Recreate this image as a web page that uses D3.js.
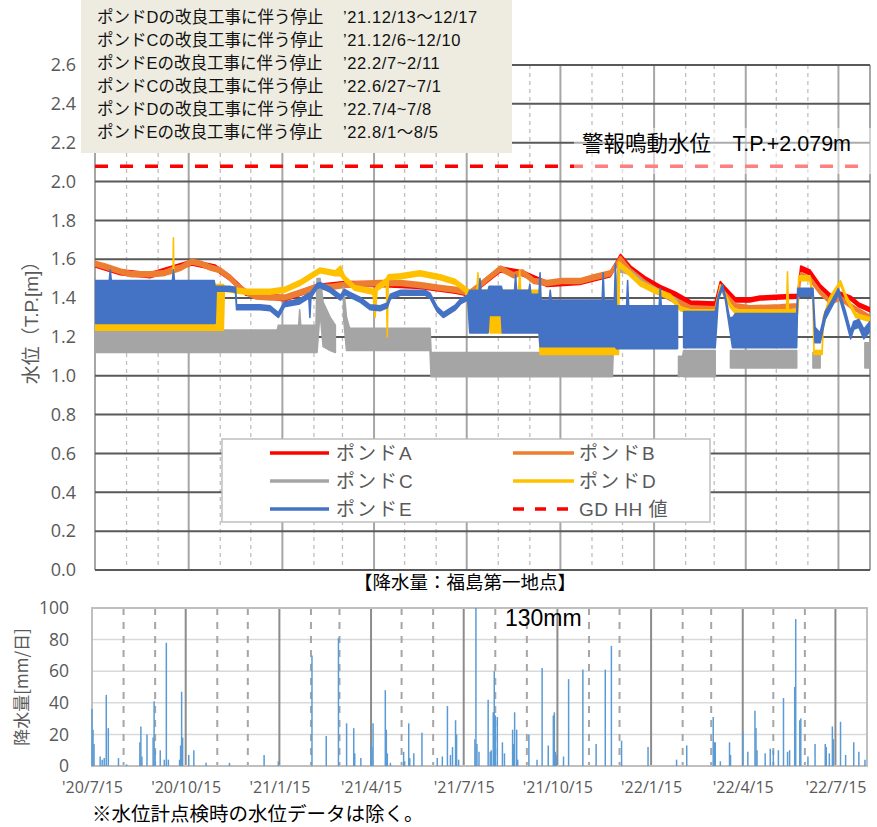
<!DOCTYPE html>
<html><head><meta charset="utf-8">
<script src="https://cdn.jsdelivr.net/npm/d3@7"></script>
<style>
body{margin:0;background:#fff;}
svg{display:block;}
</style></head><body>
<svg id="c" width="877" height="827"></svg>
<script>
// ---------------- DATA ----------------
const annotationNames = ["ポンドDの改良工事に伴う停止","ポンドCの改良工事に伴う停止","ポンドEの改良工事に伴う停止","ポンドCの改良工事に伴う停止","ポンドDの改良工事に伴う停止","ポンドEの改良工事に伴う停止"];
const annotationDates = ["’21.12/13～12/17","’21.12/6~12/10","’22.2/7~2/11","’22.6/27~7/1"," ’22.7/4~7/8","’22.8/1～8/5"];
const levelTicks = [0,0.2,0.4,0.6,0.8,1.0,1.2,1.4,1.6,1.8,2.0,2.2,2.4,2.6];
const rainTicks = [0,20,40,60,80,100];
const xTickDates = ["2020-07-15","2020-10-15","2021-01-15","2021-04-15","2021-07-15","2021-10-15","2022-01-15","2022-04-15","2022-07-15"];
const xTickLabels = ["'20/7/15","'20/10/15","'21/1/15","'21/4/15","'21/7/15","'21/10/15","'22/1/15","'22/4/15","'22/7/15"];
const hhValue = 2.079;
const hhDates = ["2020-07-15","2022-08-15"];

// [date, low, high] envelope of each pond water level (T.P. m)
const pondA = [
["2020-07-15",1.56,1.585],["2020-08-09",1.52,1.545],["2020-09-07",1.505,1.53],["2020-10-18",1.57,1.595],
["2020-11-10",1.545,1.57],["2020-11-25",1.49,1.515],["2020-12-10",1.415,1.44],["2021-01-17",1.385,1.41],
["2021-02-18",1.445,1.47],["2021-03-17",1.46,1.485],["2021-04-21",1.46,1.485],["2021-05-30",1.45,1.475],
["2021-07-04",1.425,1.45],["2021-07-18",1.41,1.435],["2021-08-17",1.535,1.56],["2021-09-08",1.515,1.54],
["2021-10-02",1.46,1.485],["2021-11-03",1.47,1.495],["2021-12-03",1.51,1.535],["2021-12-13",1.6,1.625],
["2021-12-23",1.54,1.565],["2022-01-06",1.485,1.51],["2022-01-21",1.44,1.465],["2022-02-05",1.405,1.43],
["2022-02-20",1.36,1.385],["2022-03-16",1.355,1.38],["2022-03-21",1.46,1.485],["2022-03-26",1.43,1.455],
["2022-04-05",1.38,1.4],["2022-04-19",1.38,1.4],["2022-04-29",1.39,1.41],["2022-05-19",1.395,1.415],
["2022-06-05",1.4,1.42],["2022-06-08",1.54,1.565],["2022-06-17",1.52,1.545],["2022-06-27",1.45,1.47],
["2022-07-07",1.4,1.42],["2022-07-17",1.41,1.43],["2022-07-27",1.39,1.41],["2022-08-04",1.355,1.375],
["2022-08-15",1.33,1.35]
];
const pondB = [
["2020-07-15",1.565,1.59],["2020-07-25",1.55,1.575],["2020-08-09",1.525,1.55],["2020-08-20",1.51,1.535],
["2020-09-07",1.51,1.535],["2020-09-20",1.515,1.54],["2020-09-30",1.53,1.56],["2020-10-08",1.545,1.57],
["2020-10-18",1.575,1.6],["2020-10-27",1.565,1.59],["2020-11-05",1.545,1.57],["2020-11-15",1.53,1.555],
["2020-11-25",1.49,1.515],["2020-12-01",1.455,1.48],["2020-12-10",1.42,1.445],["2020-12-20",1.395,1.42],
["2021-01-03",1.39,1.415],["2021-01-17",1.39,1.415],["2021-02-01",1.415,1.44],["2021-02-18",1.445,1.47],
["2021-03-03",1.445,1.47],["2021-03-17",1.455,1.48],["2021-04-01",1.46,1.485],["2021-04-21",1.465,1.49],
["2021-05-11",1.465,1.49],["2021-05-30",1.455,1.48],["2021-06-19",1.44,1.465],["2021-07-04",1.43,1.455],
["2021-07-18",1.415,1.44],["2021-07-28",1.455,1.48],["2021-08-17",1.54,1.565],["2021-08-30",1.505,1.53],
["2021-09-08",1.52,1.545],["2021-09-19",1.475,1.5],["2021-10-02",1.465,1.49],["2021-10-16",1.475,1.5],
["2021-11-03",1.475,1.5],["2021-11-17",1.495,1.52],["2021-12-03",1.515,1.54],["2021-12-13",1.59,1.615],
["2021-12-23",1.525,1.55],["2022-01-06",1.465,1.49],["2022-01-21",1.415,1.44],["2022-02-05",1.375,1.4],
["2022-02-20",1.34,1.36],["2022-03-16",1.335,1.355],["2022-03-21",1.44,1.46],["2022-04-05",1.35,1.37],
["2022-04-19",1.34,1.36],["2022-05-19",1.345,1.365],["2022-06-05",1.35,1.37],["2022-06-08",1.51,1.53],
["2022-06-17",1.49,1.51],["2022-06-27",1.42,1.44],["2022-07-07",1.37,1.39],["2022-07-17",1.39,1.41],
["2022-07-27",1.35,1.37],["2022-08-15",1.29,1.31]
];
const pondC = [
["2020-07-15",1.12,1.235],["2021-01-10",1.12,1.235],["2021-01-11",1.12,1.26],["2021-01-31",1.12,1.26],
["2021-02-01",1.12,1.34],["2021-02-02",1.12,1.26],["2021-02-17",1.12,1.26],["2021-02-18",1.12,1.5],
["2021-02-21",1.33,1.5],["2021-02-24",1.15,1.38],["2021-03-03",1.13,1.3],["2021-03-08",1.12,1.26],
["2021-03-09",null,null],["2021-03-16",1.3,1.46],["2021-03-19",1.13,1.3],["2021-03-22",1.13,1.245],
["2021-06-09",1.13,1.245],["2021-06-10",0.995,1.12],["2021-12-05",0.995,1.12],["2021-12-06",1.14,1.3],
["2021-12-11",1.54,1.58],["2021-12-23",1.52,1.54],["2022-01-06",1.46,1.48],["2022-01-21",1.42,1.44],
["2022-02-05",1.38,1.4],["2022-02-07",1.37,1.39],["2022-02-07",null,null],["2022-02-08",0.995,1.1],
["2022-02-12",1.0,1.1],["2022-02-13",0.995,1.13],["2022-03-16",0.995,1.13],["2022-03-17",null,null],
["2022-03-31",1.04,1.13],["2022-06-04",1.04,1.13],["2022-06-05",null,null],["2022-06-20",1.04,1.12],
["2022-06-27",1.04,1.12],["2022-06-28",null,null],["2022-08-10",1.04,1.17],["2022-08-15",1.04,1.17]
];
const pondD = [
["2020-07-15",1.235,1.3],["2020-09-29",1.235,1.3],["2020-09-30",1.235,1.71],["2020-10-01",1.235,1.3],
["2020-11-09",1.235,1.3],["2020-11-10",1.235,1.47],["2020-11-18",1.235,1.47],["2020-11-19",1.435,1.46],
["2020-11-25",1.43,1.455],["2020-12-10",1.42,1.445],["2021-01-03",1.42,1.445],["2021-01-17",1.43,1.455],
["2021-02-01",1.465,1.49],["2021-02-21",1.53,1.555],["2021-03-08",1.515,1.54],["2021-03-13",1.515,1.565],
["2021-03-17",1.49,1.515],["2021-03-27",1.44,1.465],["2021-04-14",1.42,1.445],["2021-04-16",1.3,1.445],
["2021-04-18",1.44,1.465],["2021-04-27",1.47,1.5],["2021-04-28",1.2,1.51],["2021-04-29",1.495,1.52],
["2021-05-11",1.5,1.525],["2021-05-30",1.515,1.54],["2021-06-19",1.495,1.52],["2021-07-04",1.47,1.495],
["2021-07-14",1.43,1.455],["2021-07-18",1.3,1.44],["2021-07-25",1.3,1.44],["2021-07-26",1.3,1.53],
["2021-07-27",1.3,1.44],["2021-08-06",1.3,1.44],["2021-08-07",1.22,1.33],["2021-08-19",1.22,1.33],
["2021-08-20",1.3,1.44],["2021-09-04",1.3,1.44],["2021-09-05",1.3,1.545],["2021-09-06",1.3,1.44],
["2021-09-24",1.3,1.44],["2021-09-25",1.11,1.3],["2021-12-10",1.11,1.3],["2021-12-11",1.11,1.585],
["2021-12-12",1.56,1.585],["2021-12-23",1.51,1.535],["2022-01-01",1.465,1.49],["2022-01-16",1.425,1.45],
["2022-01-31",1.395,1.42],["2022-02-10",1.335,1.355],["2022-02-20",1.32,1.34],["2022-03-16",1.32,1.34],
["2022-03-21",1.45,1.47],["2022-03-31",1.35,1.37],["2022-04-05",1.32,1.34],["2022-05-25",1.32,1.34],
["2022-05-26",1.32,1.535],["2022-05-27",1.32,1.34],["2022-06-05",1.32,1.34],["2022-06-06",1.49,1.515],
["2022-06-17",1.49,1.515],["2022-06-20",1.39,1.42],["2022-06-21",1.11,1.13],["2022-06-29",1.11,1.13],
["2022-06-30",1.25,1.3],["2022-07-07",1.39,1.41],["2022-07-17",1.47,1.49],["2022-07-22",1.4,1.42],
["2022-08-01",1.3,1.32],["2022-08-15",1.28,1.3]
];
const pondE = [
["2020-07-15",1.27,1.49],["2020-07-29",1.27,1.49],["2020-07-30",1.27,1.545],["2020-07-31",1.27,1.49],
["2020-09-29",1.27,1.49],["2020-09-30",1.27,1.545],["2020-10-01",1.27,1.49],["2020-11-09",1.27,1.49],
["2020-11-10",1.27,1.46],["2020-11-11",1.435,1.46],["2020-11-25",1.435,1.46],["2020-11-30",1.43,1.455],
["2020-12-01",1.34,1.365],["2020-12-24",1.34,1.365],["2021-01-03",1.335,1.36],["2021-01-11",1.3,1.325],
["2021-01-17",1.355,1.38],["2021-02-01",1.37,1.395],["2021-02-10",1.4,1.425],["2021-02-11",1.3,1.42],
["2021-02-12",1.4,1.43],["2021-02-18",1.45,1.475],["2021-02-21",1.455,1.48],["2021-03-03",1.43,1.455],
["2021-03-13",1.39,1.415],["2021-03-17",1.42,1.445],["2021-03-22",1.405,1.43],["2021-04-01",1.38,1.405],
["2021-04-11",1.34,1.365],["2021-04-21",1.335,1.36],["2021-04-28",1.35,1.375],["2021-05-01",1.395,1.42],
["2021-05-11",1.415,1.44],["2021-06-04",1.415,1.44],["2021-06-09",1.4,1.425],["2021-06-16",1.33,1.355],
["2021-06-22",1.3,1.325],["2021-07-04",1.34,1.365],["2021-07-09",1.37,1.395],["2021-07-16",1.39,1.415],
["2021-07-18",1.22,1.44],["2021-07-27",1.22,1.44],["2021-07-28",1.22,1.5],["2021-07-29",1.22,1.44],
["2021-08-05",1.22,1.44],["2021-08-06",1.31,1.46],["2021-08-18",1.31,1.46],["2021-08-19",1.22,1.44],
["2021-08-31",1.22,1.44],["2021-09-01",1.22,1.52],["2021-09-02",1.22,1.44],["2021-09-14",1.22,1.44],
["2021-09-15",1.22,1.47],["2021-09-16",1.22,1.42],["2021-09-24",1.22,1.42],["2021-09-25",1.15,1.53],
["2021-09-26",1.15,1.39],["2021-10-04",1.15,1.39],["2021-10-05",1.15,1.44],["2021-10-06",1.15,1.39],
["2021-11-25",1.15,1.39],["2021-11-26",1.15,1.53],["2021-11-27",1.15,1.39],["2021-12-07",1.15,1.39],
["2021-12-08",1.15,1.575],["2021-12-09",1.14,1.36],["2021-12-19",1.14,1.36],["2021-12-20",1.14,1.49],
["2021-12-21",1.14,1.36],["2022-01-20",1.14,1.36],["2022-01-21",1.14,1.45],["2022-01-22",1.14,1.36],
["2022-02-07",1.14,1.36],["2022-02-08",null,null],["2022-02-13",1.145,1.33],["2022-03-16",1.145,1.33],
["2022-03-19",1.39,1.41],["2022-03-23",1.45,1.47],["2022-03-26",1.39,1.41],["2022-03-30",1.25,1.3],
["2022-04-02",1.145,1.3],["2022-04-05",1.145,1.32],["2022-06-04",1.145,1.32],["2022-06-05",1.41,1.45],
["2022-06-20",1.41,1.45],["2022-06-22",1.17,1.25],["2022-06-27",1.17,1.22],["2022-07-02",1.29,1.33],
["2022-07-09",1.36,1.39],["2022-07-15",1.42,1.45],["2022-07-22",1.29,1.33],["2022-07-27",1.19,1.23],
["2022-07-30",1.24,1.28],["2022-08-04",1.25,1.29],["2022-08-09",1.19,1.24],["2022-08-15",1.23,1.28]
];

// daily precipitation (mm/day), Fukushima Daiichi
const rainDates = ["2020-07-15","2020-07-16","2020-07-17","2020-07-23","2020-07-25","2020-07-27","2020-07-29","2020-07-31","2020-08-10","2020-08-18",
"2020-08-31","2020-09-01","2020-09-02","2020-09-07","2020-09-13","2020-09-14","2020-09-15","2020-09-20","2020-09-24","2020-09-26",
"2020-09-28","2020-10-09","2020-10-10","2020-10-11","2020-10-12","2020-10-18","2020-10-23","2020-11-04","2020-11-27","2020-12-31",
"2021-01-14","2021-02-16","2021-03-02","2021-03-14","2021-03-22","2021-03-29","2021-03-30","2021-04-05","2021-04-15","2021-04-16",
"2021-04-17","2021-04-29","2021-04-30","2021-05-01","2021-05-04","2021-05-17","2021-05-18","2021-05-22","2021-05-23","2021-05-27",
"2021-06-04","2021-06-19","2021-06-24","2021-06-29","2021-07-02","2021-07-04","2021-07-07","2021-07-08","2021-07-10","2021-07-26",
"2021-07-27","2021-07-28","2021-07-30","2021-08-08","2021-08-10","2021-08-11","2021-08-13","2021-08-14","2021-08-15","2021-08-17",
"2021-08-22","2021-08-24","2021-09-01","2021-09-02","2021-09-03","2021-09-05","2021-09-06","2021-09-17","2021-09-25","2021-09-30",
"2021-10-06","2021-10-11","2021-10-12","2021-10-13","2021-10-14","2021-10-21","2021-10-26","2021-11-09","2021-11-22","2021-12-01",
"2021-12-07","2021-12-17","2022-01-12","2022-02-09","2022-02-19","2022-03-17","2022-03-18","2022-03-19","2022-03-24","2022-04-02",
"2022-04-03","2022-04-15","2022-04-20","2022-04-27","2022-04-28","2022-04-29","2022-05-07","2022-05-12","2022-05-15","2022-05-20",
"2022-05-25","2022-05-29","2022-05-31","2022-06-05","2022-06-06","2022-06-10","2022-06-11","2022-06-18","2022-06-25","2022-07-05",
"2022-07-06","2022-07-09","2022-07-12","2022-07-13","2022-07-20","2022-07-25","2022-08-02","2022-08-07","2022-08-13"];
const rainValues = [36,23,14,6,4,5,45,24,5,1,
15,25,6,20,18,41,10,10,4,78,
4,4,13,47,18,7,10,2,2,7,
3,70,19,81,27,24,8,5,14,12,
27,48,23,8,2,9,3,27,5,8,
21,5,6,38,7,12,29,20,4,17,
130,14,9,42,9,10,34,60,32,31,
15,8,23,14,34,23,4,20,4,62,
13,32,34,9,7,6,55,61,14,61,
76,16,12,4,13,31,15,15,3,15,
7,22,9,35,24,10,8,11,10,10,
43,9,10,50,93,29,30,6,14,14,
12,8,25,17,28,7,15,9,4];

// ---------------- DRAW ----------------
const parse = d3.timeParse("%Y-%m-%d");
const svg = d3.select("#c");
const JP = "'Liberation Sans','Noto Sans CJK JP',sans-serif";
const JPN = "'Noto Sans CJK JP',sans-serif";
const NUM = "'Open Sans',sans-serif";
const startD = parse("2020-07-15"), endD = parse("2022-08-15");

const xTop = d3.scaleTime().domain([startD, endD]).range([95, 870]);
const yTop = d3.scaleLinear().domain([0, 2.6]).range([570, 65]);
const xBot = d3.scaleTime().domain([startD, endD]).range([92, 867]);
const yBot = d3.scaleLinear().domain([0, 100]).range([766, 608]).clamp(true);

const gridDates = d3.range(0, 26).map(i => new Date(2020, 6 + i, 15));
const isQuarter = d => d.getMonth() % 3 === 0;

// ---- top chart grid ----
const gTop = svg.append("g");
gTop.selectAll("line.vd").data(gridDates.filter(d => !isQuarter(d)))
  .join("line").attr("x1", d => xTop(d)).attr("x2", d => xTop(d)).attr("y1", yTop(2.6)).attr("y2", yTop(0))
  .attr("stroke", "#bfbfbf").attr("stroke-width", 1.3).attr("stroke-dasharray", "4,4");
gTop.selectAll("line.vs").data(gridDates.filter(d => isQuarter(d)))
  .join("line").attr("x1", d => xTop(d)).attr("x2", d => xTop(d)).attr("y1", yTop(2.6)).attr("y2", yTop(0))
  .attr("stroke", "#a6a6a6").attr("stroke-width", 2);
gTop.append("line").attr("x1", 95).attr("x2", 95).attr("y1", yTop(2.6)).attr("y2", yTop(0)).attr("stroke", "#a6a6a6").attr("stroke-width", 2);
gTop.append("line").attr("x1", 870).attr("x2", 870).attr("y1", yTop(2.6)).attr("y2", yTop(0)).attr("stroke", "#a6a6a6").attr("stroke-width", 2);
gTop.selectAll("line.h").data(levelTicks)
  .join("line").attr("x1", 95).attr("x2", 870).attr("y1", d => yTop(d)).attr("y2", d => yTop(d))
  .attr("stroke", "#595959").attr("stroke-width", 2);

// y axis labels
const yAx = svg.append("g").attr("transform", "translate(95,0)")
  .call(d3.axisLeft(yTop).tickValues(levelTicks).tickFormat(d3.format(".1f")).tickSize(0).tickPadding(19));
yAx.select(".domain").remove();
yAx.selectAll("text").attr("font-family", NUM).attr("font-size", 18).attr("fill", "#595959");

svg.append("text").attr("transform", "translate(31,318) rotate(-90)")
  .attr("text-anchor", "middle").attr("dominant-baseline", "central")
  .attr("font-family", JP).attr("font-size", 19).attr("fill", "#595959").text("水位（T.P.[m]）");

// series
const clip = svg.append("defs").append("clipPath").attr("id", "topclip");
clip.append("rect").attr("x", 95).attr("y", 60).attr("width", 775).attr("height", 512);
const toRows = arr => arr.map(r => ({d: parse(r[0]), lo: r[1], hi: r[2]}));
const area = d3.area().defined(d => d.lo !== null)
  .x(d => xTop(d.d)).y0(d => yTop(d.lo)).y1(d => yTop(d.hi));
const series = [
  {name: "ポンドA", data: pondA, color: "#ff0000"},
  {name: "ポンドB", data: pondB, color: "#ed7d31"},
  {name: "ポンドC", data: pondC, color: "#a5a5a5"},
  {name: "ポンドD", data: pondD, color: "#ffc000"},
  {name: "ポンドE", data: pondE, color: "#4472c4"}
];
const gSer = svg.append("g").attr("clip-path", "url(#topclip)");
series.forEach(s => {
  gSer.append("path").datum(toRows(s.data)).attr("d", area)
    .attr("fill", s.color).attr("stroke", s.color).attr("stroke-width", 1.6)
    .attr("stroke-linejoin", "round");
});

// GD HH line
const hhLine = d3.line().x(d => xTop(parse(d))).y(() => yTop(hhValue));
svg.append("path").datum(hhDates).attr("d", hhLine).attr("fill", "none")
  .attr("stroke", "#ff0000").attr("stroke-width", 3.5).attr("stroke-dasharray", "13,12");

// alarm label with translucent background
svg.append("rect").attr("x", 574).attr("y", 128).attr("width", 303).attr("height", 46)
  .attr("fill", "#fff").attr("opacity", 0.5);
svg.append("text").attr("x", 582).attr("y", 151).attr("font-family", JP).attr("font-size", 21.5)
  .attr("fill", "#000").text("警報鳴動水位　T.P.+2.079m");

// legend
const leg = svg.append("g");
leg.append("rect").attr("x", 222).attr("y", 439).attr("width", 488).attr("height", 83)
  .attr("fill", "#fff").attr("stroke", "#bfbfbf").attr("stroke-width", 1.5);
const legItems = [
  {name: "ポンドA", color: "#ff0000", col: 0, row: 0},
  {name: "ポンドB", color: "#ed7d31", col: 1, row: 0},
  {name: "ポンドC", color: "#a5a5a5", col: 0, row: 1},
  {name: "ポンドD", color: "#ffc000", col: 1, row: 1},
  {name: "ポンドE", color: "#4472c4", col: 0, row: 2},
  {name: "GD HH 値", color: "#ff0000", col: 1, row: 2, dash: true}
];
const colX = [[270, 329, 336], [513, 574, 579]];
legItems.forEach(it => {
  const cy = 453 + it.row * 28;
  const c = colX[it.col];
  leg.append("line").attr("x1", c[0]).attr("x2", c[1]).attr("y1", cy).attr("y2", cy)
    .attr("stroke", it.color).attr("stroke-width", 3.5)
    .attr("stroke-dasharray", it.dash ? "11,11" : null);
  leg.append("text").attr("x", c[2]).attr("y", cy + 7).attr("font-family", JP).attr("font-size", 19)
    .attr("letter-spacing", it.dash ? "0.5px" : "2px").attr("fill", "#595959").text(it.name);
});

// annotation box
svg.append("rect").attr("x", 81).attr("y", 0).attr("width", 431).attr("height", 153).attr("fill", "#eeece1");
const ann = svg.append("g").attr("font-family", JP).attr("font-size", 16.5).attr("fill", "#111");
annotationNames.forEach((n, i) => {
  const y = 23 + i * 23;
  ann.append("text").attr("x", 97).attr("y", y).text(n);
  ann.append("text").attr("x", 343).attr("y", y).attr("letter-spacing", "0.6px").text(annotationDates[i]);
});

// ---- rain subtitle ----
svg.append("text").attr("x", 465).attr("y", 589).attr("text-anchor", "middle")
  .attr("font-family", JPN).attr("font-size", 18.5).attr("fill", "#000").text("【降水量：福島第一地点】");

// ---- bottom chart ----
const gBot = svg.append("g");
gBot.selectAll("line.h").data(rainTicks.filter(d => d > 0 && d < 100))
  .join("line").attr("x1", 92).attr("x2", 867).attr("y1", d => yBot(d)).attr("y2", d => yBot(d))
  .attr("stroke", "#d9d9d9").attr("stroke-width", 1.5);
gBot.selectAll("line.vd").data(gridDates.filter(d => !isQuarter(d)))
  .join("line").attr("x1", d => xBot(d)).attr("x2", d => xBot(d)).attr("y1", yBot(100)).attr("y2", yBot(0))
  .attr("stroke", "#a6a6a6").attr("stroke-width", 2).attr("stroke-dasharray", "7,7");
gBot.selectAll("line.vs").data(gridDates.filter(d => isQuarter(d)))
  .join("line").attr("x1", d => xBot(d)).attr("x2", d => xBot(d)).attr("y1", yBot(100)).attr("y2", yBot(0))
  .attr("stroke", "#8c8c8c").attr("stroke-width", 2);
gBot.append("rect").attr("x", 92).attr("y", yBot(100)).attr("width", 775).attr("height", yBot(0) - yBot(100))
  .attr("fill", "none").attr("stroke", "#bfbfbf").attr("stroke-width", 2);

// bars
gBot.selectAll("line.bar").data(rainDates.map((d, i) => ({d: parse(d), v: rainValues[i]})))
  .join("line").attr("x1", d => xBot(d.d)).attr("x2", d => xBot(d.d))
  .attr("y1", yBot(0)).attr("y2", d => yBot(d.v))
  .attr("stroke", "#5b9bd5").attr("stroke-width", 1.5);

const yAx2 = svg.append("g").attr("transform", "translate(92,0)")
  .call(d3.axisLeft(yBot).tickValues(rainTicks).tickSize(0).tickPadding(23));
yAx2.select(".domain").remove();
yAx2.selectAll("text").attr("font-family", NUM).attr("font-size", 17.5).attr("fill", "#595959");

const xAx = svg.append("g").attr("transform", "translate(0,766)")
  .call(d3.axisBottom(xBot).tickValues(xTickDates.map(parse)).tickFormat((d, i) => xTickLabels[i]).tickSize(0).tickPadding(16));
xAx.select(".domain").remove();
xAx.selectAll("text").attr("font-family", NUM).attr("font-size", 16).attr("fill", "#595959");

svg.append("text").attr("transform", "translate(20,687) rotate(-90)")
  .attr("text-anchor", "middle").attr("dominant-baseline", "central")
  .attr("font-family", JPN).attr("font-size", 17).attr("fill", "#595959").text("降水量[mm/日]");

svg.append("text").attr("x", 505).attr("y", 626).attr("font-family", JP).attr("font-size", 23)
  .attr("fill", "#000").text("130mm");

svg.append("text").attr("x", 92).attr("y", 821).attr("font-family", JPN).attr("font-size", 19.5)
  .attr("fill", "#000").text("※水位計点検時の水位データは除く。");
</script>
</body></html>
